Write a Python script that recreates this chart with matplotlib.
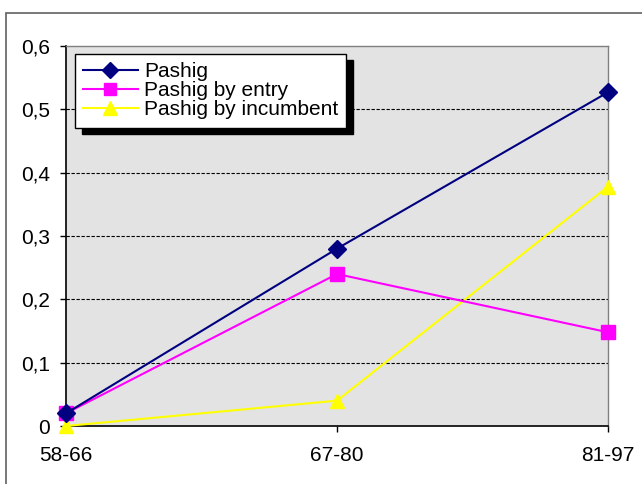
import matplotlib
matplotlib.use("Agg")
import matplotlib.pyplot as plt
from matplotlib.patches import Rectangle
from matplotlib.transforms import IdentityTransform
from matplotlib.ticker import FuncFormatter

plt.rcParams['font.family'] = ['Liberation Sans', 'DejaVu Sans']

categories = ["58-66", "67-80", "81-97"]
pashig = [0.02, 0.28, 0.527]
pashig_entry = [0.02, 0.24, 0.148]
pashig_incumbent = [0.0, 0.04, 0.378]
y_ticks = [0, 0.1, 0.2, 0.3, 0.4, 0.5, 0.6]

W, H = 642, 484
fig = plt.figure(figsize=(W / 100, H / 100), dpi=100)
fig.patch.set_facecolor('white')

# outer chart border
fig.add_artist(Rectangle((6 / W, -0.1), 1.0, (H - 13) / H + 0.1, transform=fig.transFigure,
                         fill=False, edgecolor='#606060', linewidth=1.2))

ax = fig.add_axes([66 / W, 1 - 426 / H, (608 - 66) / W, (426 - 46) / H])
ax.set_facecolor('#e3e3e3')
x = list(range(len(categories)))

ax.plot(x, pashig, color='#000080', marker='D', markersize=9, linewidth=1.5,
        label='Pashig', clip_on=False, zorder=5)
ax.plot(x, pashig_entry, color='#ff00ff', marker='s', markersize=10, linewidth=1.5,
        label='Pashig by entry', clip_on=False, zorder=4)
ax.plot(x, pashig_incumbent, color='#ffff00', marker='^', markersize=10.5, linewidth=1.5,
        label='Pashig by incumbent', clip_on=False, zorder=3)

ax.set_xlim(0, 2)
ax.set_ylim(0, 0.6)
ax.set_xticks(x)
ax.set_xticklabels(categories)
ax.set_yticks(y_ticks)
ax.yaxis.set_major_formatter(FuncFormatter(lambda v, p: ('%g' % round(v, 2)).replace('.', ',')))
ax.tick_params(axis='both', labelsize=15, colors='black', direction='out', length=4.5, width=1)
ax.tick_params(axis='x', pad=10)
ax.tick_params(axis='y', pad=7)

for t in y_ticks[1:-1]:
    ax.axhline(t, color='black', linewidth=0.8, linestyle=(0, (3, 1.5)), zorder=1)

ax.spines['left'].set_color('black')
ax.spines['bottom'].set_color('black')
ax.spines['left'].set_linewidth(1.2)
ax.spines['bottom'].set_linewidth(1.2)
ax.spines['top'].set_color('#808080')
ax.spines['right'].set_color('#808080')
ax.spines['top'].set_linewidth(1.0)
ax.spines['right'].set_linewidth(1.0)

leg = ax.legend(loc='upper left', bbox_to_anchor=((75 - 66) / (608 - 66), 1 - (54 - 46) / (426 - 46)),
                fontsize=15, frameon=True, fancybox=False, edgecolor='black',
                borderpad=0.4, labelspacing=0.0, handlelength=2.6, handletextpad=0.3,
                borderaxespad=0.0, framealpha=1, markerscale=0.9)
leg.get_frame().set_linewidth(1.0)
leg.set_zorder(10)

fig.canvas.draw()
bb = leg.get_window_extent()
sh = Rectangle((bb.x0 + 7, bb.y0 - 6), bb.width, bb.height, transform=IdentityTransform(),
               facecolor='black', edgecolor='black', zorder=9, clip_on=False)
ax.add_artist(sh)

fig.savefig('out.png', dpi=100)
